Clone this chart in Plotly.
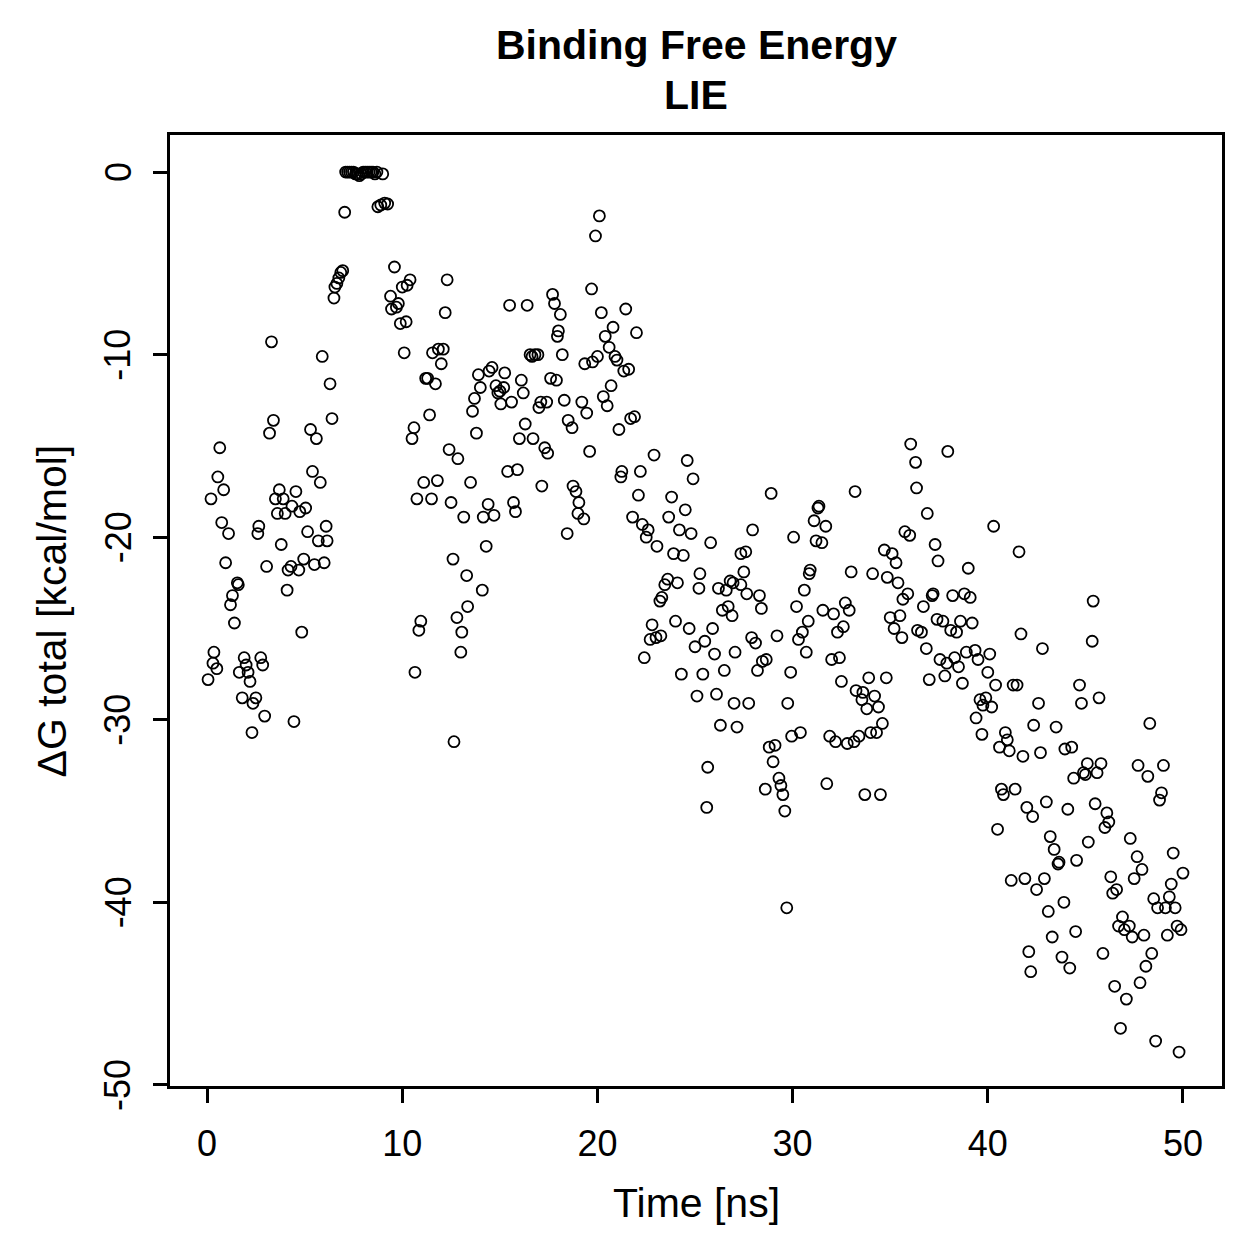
import plotly.graph_objects as go

time_ns = [
    0.05, 0.2, 0.3, 0.35, 0.5, 0.55, 0.65, 0.75, 0.85, 0.95, 1.1, 1.2, 1.3, 1.4, 1.55, 1.6, 1.65, 1.8, 1.9, 2.0,
    2.1, 2.2, 2.3, 2.35, 2.5, 2.6, 2.65, 2.75, 2.85, 2.95, 3.05, 3.2, 3.3, 3.4, 3.5, 3.6, 3.7, 3.8, 3.9, 4.0,
    4.1, 4.15, 4.3, 4.35, 4.45, 4.55, 4.7, 4.75, 4.85, 4.95, 5.05, 5.15, 5.3, 5.4, 5.5, 5.6, 5.7, 5.8, 5.9, 6.0,
    6.1, 6.15, 6.3, 6.4, 6.5, 6.55, 6.65, 6.75, 6.85, 6.95, 7.05,
    7.1, 7.2, 7.3, 7.4, 7.5, 7.6, 7.7, 7.8, 7.9, 8.0, 8.1, 8.2, 8.3, 8.4, 8.5, 8.6, 8.7, 9.0,
    8.75, 8.9, 9.1, 9.25,
    9.4, 9.45, 9.6, 9.7, 9.8, 9.9, 10.0, 10.1, 10.2, 10.25, 10.4, 10.5, 10.6, 10.65, 10.75, 10.85, 10.95, 11.1, 11.2, 11.3,
    11.4, 11.5, 11.55, 11.7, 11.8, 11.85, 12.0, 12.1, 12.2, 12.3, 12.4, 12.5, 12.6, 12.65, 12.8, 12.85, 13.0, 13.05, 13.15, 13.3,
    13.35, 13.5, 13.6, 13.7, 13.8, 13.9, 14.0, 14.1, 14.15, 14.3, 14.4, 14.45, 14.6, 14.7, 14.8, 14.9, 15.0, 15.05, 15.2, 15.25,
    15.4, 15.5, 15.6, 15.7, 15.8, 15.9, 16.0, 16.1, 16.2, 16.3, 16.4, 16.55, 16.65, 16.7, 16.8, 16.95, 17.0, 17.1, 17.15, 17.3,
    17.4, 17.45, 17.6, 17.7, 17.8, 17.9, 17.95, 18.0, 18.1, 18.2, 18.3, 18.45, 18.5, 18.7,
    18.75, 18.9, 19.0, 19.05, 19.2, 19.3, 19.35, 19.45, 19.6, 19.7, 19.75, 19.9, 20.0, 20.1, 20.2, 20.3, 20.4, 20.5, 20.6, 20.7,
    20.8, 20.9, 21.0, 21.1, 21.2, 21.25, 21.35, 21.45, 21.6, 21.7, 21.8, 21.9, 22.0, 22.1, 22.2, 22.3, 22.4, 22.5, 22.6, 22.7,
    22.8, 22.9, 23.0, 23.05, 23.25, 23.2, 23.3, 23.45, 23.6, 23.65, 23.8, 23.9, 24.0, 24.1, 24.2, 24.3, 24.4, 24.5, 24.6, 24.7,
    24.8, 24.9, 25.0, 25.1, 25.2, 25.25, 25.4, 25.5, 25.6, 25.65, 25.8, 25.9, 26.0, 26.1, 26.2, 26.3, 26.4, 26.5, 26.6, 26.7,
    26.8, 26.9, 26.95, 27.0, 27.05, 27.15, 27.35, 27.35, 27.5, 27.6, 27.65, 27.75, 27.9, 27.95, 28.1, 28.2, 28.3, 28.4, 28.45, 28.6,
    28.65, 28.8, 28.9, 29.0, 29.1, 29.2, 29.3, 29.4, 29.5, 29.6, 29.7, 29.75, 29.9, 29.95, 30.05, 30.2, 30.3, 30.4, 30.5, 30.6,
    30.7, 30.8, 30.85, 30.9, 31.1, 31.2, 31.3, 31.35, 31.5, 31.55, 31.7, 31.75, 31.9, 32.0, 32.1, 32.2, 32.3, 32.4, 32.5, 32.6,
    32.7, 32.8, 32.9, 33.0, 33.15, 33.2, 33.25, 33.4, 33.55, 33.6, 33.7, 33.8, 33.9, 34.0, 34.1, 34.2, 34.3, 34.4, 34.5, 34.6,
    34.7, 34.8, 34.85, 35.0, 35.1, 35.2, 35.3, 35.4, 35.5, 35.6, 35.65, 35.75, 35.9, 36.0, 36.05, 36.3, 36.35, 36.4, 36.6, 36.7,
    36.85, 36.9, 37.0, 37.15, 37.2, 37.3, 37.4, 37.45, 37.55, 37.7, 37.8, 37.9, 37.95, 38.1, 38.2, 38.3, 38.4, 38.5, 38.6, 38.7,
    38.8, 38.9, 39.0, 39.1, 39.2, 39.35, 39.4, 39.5, 39.6, 39.7, 39.75, 39.9, 40.0, 40.1, 40.2, 40.3, 40.4, 40.5, 40.6, 40.7,
    40.8, 40.9, 41.0, 41.1, 41.2, 41.3, 41.4, 41.5, 41.6, 41.7, 41.8, 41.9, 42.0, 42.1, 42.2, 42.3, 42.35, 42.5, 42.6, 42.7,
    42.8, 42.9, 43.0, 43.1, 43.2, 43.3, 43.4, 43.5, 43.6, 43.65, 43.8, 43.9, 43.95, 44.1, 44.2, 44.3, 44.4, 44.5, 44.55, 44.7,
    44.8, 44.9, 45.0, 45.1, 45.15, 45.35, 45.4, 45.5, 45.6, 45.7, 45.8, 45.9, 46.0, 46.1, 46.2, 46.3, 46.4, 46.5, 46.6, 46.7,
    46.8, 46.9, 47.0, 47.1, 47.3, 47.25, 47.4, 47.5, 47.65, 47.7, 47.8, 47.9, 48.0, 48.1, 48.2, 48.3, 48.4, 48.5, 48.6, 48.7,
    48.8, 48.9, 49.0, 49.1, 49.2, 49.3, 49.4, 49.5, 49.6, 49.7, 49.8, 49.9, 50.0,
]

dg_total = [
    -27.8, -17.9, -26.9, -26.3, -27.2, -16.7, -15.1, -19.2, -17.4, -21.4, -19.8, -23.7, -23.2, -24.7, -22.5, -22.6, -27.4, -28.8, -26.6, -27.0,
    -27.4, -27.9, -30.7, -29.1, -28.8, -19.8, -19.4, -26.6, -27.0, -29.8, -21.6, -14.3, -9.3, -13.6, -17.9, -18.7, -17.4, -20.4, -17.9, -18.7,
    -22.9, -21.8, -21.6, -18.3, -30.1, -17.5, -21.8, -18.6, -25.2, -21.2, -18.4, -19.7, -14.1, -16.4, -21.5, -14.6, -20.2, -17.0, -10.1, -21.4,
    -19.4, -20.2, -11.6, -13.5, -6.9, -6.3, -6.1, -5.8, -5.5, -5.4, -2.2,
    0.0, 0.0, 0.0, 0.0, 0.0, -0.1, -0.1, -0.2, -0.1, 0.0, 0.0, 0.0, 0.0, 0.0, 0.0, -0.1, 0.0, -0.1,
    -1.9, -1.8, -1.7, -1.75,
    -6.8, -7.5, -5.2, -7.4, -7.2, -8.3, -6.3, -9.9, -8.2, -6.2, -5.9, -14.6, -14.0, -27.4, -17.9, -25.1, -24.6, -17.0, -11.3, -11.3,
    -13.3, -17.9, -9.9, -11.6, -16.9, -9.7, -10.5, -9.7, -7.7, -5.9, -15.2, -18.1, -21.2, -31.2, -24.4, -15.7, -26.3, -25.2, -18.9, -22.1,
    -23.8, -17.0, -13.1, -12.4, -14.3, -11.1, -11.8, -22.9, -18.9, -20.5, -18.2, -10.9, -10.7, -18.8, -11.7, -12.1, -12.0, -12.7, -11.8, -11.0,
    -16.4, -7.3, -12.6, -18.1, -18.6, -16.3, -14.6, -11.4, -12.1, -13.8, -7.3, -10.0, -10.1, -14.6, -10.0, -10.0, -12.9, -12.6, -17.2, -15.1,
    -12.6, -15.4, -11.3, -6.7, -7.2, -11.4, -9.0, -8.7, -7.8, -10.0, -12.5, -19.8, -13.6, -14.0,
    -17.2, -17.5, -18.7, -18.1, -12.6, -19.0, -10.5, -13.2, -15.3, -6.4, -10.4, -3.5, -10.1, -2.4, -7.7, -12.3, -9.0, -12.8, -9.6, -11.7,
    -8.5, -10.1, -10.3, -14.1, -16.7, -16.4, -10.9, -7.5, -10.8, -13.5, -18.9, -13.4, -8.8, -17.7, -16.4, -19.3, -26.6, -20.0, -19.6, -25.6,
    -24.8, -15.5, -25.5, -20.5, -25.4, -23.5, -23.3, -22.6, -22.3, -18.9, -17.8, -20.9, -24.6, -22.5, -19.6, -27.5, -21.0, -18.5, -15.8, -25.0,
    -19.8, -16.8, -26.0, -28.7, -22.8, -22.0, -27.5, -25.7, -34.8, -32.6, -20.3, -25.0, -26.4, -28.6, -22.8, -30.3, -24.0, -27.3, -22.9, -23.8,
    -22.4, -24.3, -22.5, -29.1, -26.3, -30.4, -20.9, -22.6, -21.9, -20.8, -23.1, -29.1, -25.5, -19.6, -25.8, -27.3, -23.2, -23.9, -26.8, -33.8,
    -26.7, -31.5, -17.6, -32.3, -31.4, -25.4, -33.2, -33.6, -34.1, -35.0, -40.3, -29.1, -27.4, -30.9, -20.0, -23.8, -25.6, -30.7, -25.2, -22.9,
    -26.3, -24.6, -22.0, -21.8, -19.1, -20.2, -18.4, -18.3, -20.3, -24.0, -19.4, -33.5, -30.9, -26.7, -24.2, -31.2, -25.2, -26.6, -27.9, -24.9,
    -23.6, -31.3, -24.0, -21.9, -31.2, -17.5, -28.4, -30.9, -28.9, -28.5, -34.1, -29.4, -27.7, -30.7, -22.0, -28.7, -30.7, -29.3, -34.1, -30.2,
    -20.7, -27.7, -22.2, -24.4, -20.9, -25.0, -21.4, -22.5, -24.3, -25.5, -23.4, -19.7, -23.1, -19.9, -14.9, -15.9, -17.3, -25.1, -25.2, -23.8,
    -26.1, -18.7, -27.8, -23.2, -23.1, -20.4, -24.5, -21.3, -26.7, -24.6, -27.6, -26.9, -15.3, -25.1, -23.2, -26.6, -25.2, -27.1, -24.6, -28.0,
    -23.1, -26.3, -21.7, -23.3, -24.7, -26.2, -29.9, -26.7, -28.9, -30.8, -29.2, -28.8, -27.4, -26.4, -29.3, -19.4, -28.1, -36.0, -31.5, -33.8,
    -34.1, -30.7, -31.1, -31.7, -38.8, -28.1, -33.8, -28.1, -20.8, -25.3, -32.0, -38.7, -34.8, -42.7, -43.8, -35.3, -30.3, -39.3, -29.1, -31.8,
    -26.1, -38.7, -34.5, -40.5, -36.4, -41.9, -37.1, -30.4, -37.9, -37.8, -43.0, -40.0, -31.6, -34.9, -43.6, -31.5, -33.2, -41.6, -37.7, -28.1,
    -29.1, -32.9, -33.0, -32.4, -36.7, -25.7, -23.5, -34.6, -32.9, -28.8, -32.4, -42.8, -35.9, -35.1, -35.6, -38.6, -39.5, -44.6, -39.3, -41.3,
    -46.9, -40.8, -41.5, -45.3, -36.5, -41.3, -41.9, -38.7, -37.5, -32.5, -44.4, -38.2, -41.8, -43.5, -33.1, -30.2, -42.8, -39.8, -47.6, -40.3,
    -34.4, -34.0, -32.5, -40.3, -41.8, -39.7, -39.0, -37.3, -40.3, -41.3, -48.2, -41.5, -38.4,
]

x_ticks = [0, 10, 20, 30, 40, 50]
y_ticks = [0, -10, -20, -30, -40, -50]
y_tick_labels = ["0", "-10", "-20", "-30", "-40", "-50"]

FONT = "Liberation Sans, Arial, Helvetica, sans-serif"

fig = go.Figure()
fig.add_trace(go.Scatter(
    x=time_ns, y=dg_total, mode="markers",
    marker=dict(symbol="circle-open", size=11, color="black", line=dict(color="black", width=1.8)),
    showlegend=False, hoverinfo="skip",
))

axis_common = dict(
    showgrid=False, zeroline=False, showline=True, mirror=True,
    linecolor="black", linewidth=2.5, ticks="outside", ticklen=14, tickwidth=2.5,
    tickcolor="black",
)

tick_font = dict(family=FONT, size=36, color="black")

annotations = [
    dict(text="<b>Binding Free Energy</b>", xref="paper", yref="paper", x=0.5, y=1.0946,
         xanchor="center", yanchor="middle", showarrow=False,
         font=dict(family=FONT, size=41, color="black")),
    dict(text="<b>LIE</b>", xref="paper", yref="paper", x=0.5, y=1.042,
         xanchor="center", yanchor="middle", showarrow=False,
         font=dict(family=FONT, size=41, color="black")),
    dict(text="Time [ns]", xref="paper", yref="paper", x=0.5, y=-0.123,
         xanchor="center", yanchor="middle", showarrow=False,
         font=dict(family=FONT, size=41, color="black")),
    dict(text="ΔG total [kcal/mol]", xref="paper", yref="paper", x=-0.1122, y=0.5,
         xanchor="center", yanchor="middle", showarrow=False, textangle=-90,
         font=dict(family=FONT, size=41, color="black")),
]
# y tick labels, rotated as in the reference, placed at the tick values
for val, lab in zip(y_ticks, y_tick_labels):
    annotations.append(dict(text=lab, xref="paper", yref="y", x=-0.0494, y=val,
                            xanchor="center", yanchor="middle", showarrow=False,
                            textangle=-90, font=tick_font))

fig.update_layout(
    width=1259, height=1259,
    margin=dict(l=170, r=37, t=135, b=173),
    paper_bgcolor="white", plot_bgcolor="white",
    xaxis=dict(range=[-1.9, 52.0], tickvals=x_ticks, ticktext=[str(v) for v in x_ticks],
               ticklabelstandoff=10, tickfont=tick_font, **axis_common),
    yaxis=dict(range=[-50.06, 2.03], tickvals=y_ticks, ticktext=y_tick_labels,
               showticklabels=False, **axis_common),
    annotations=annotations,
)

fig.write_html("out.html")
